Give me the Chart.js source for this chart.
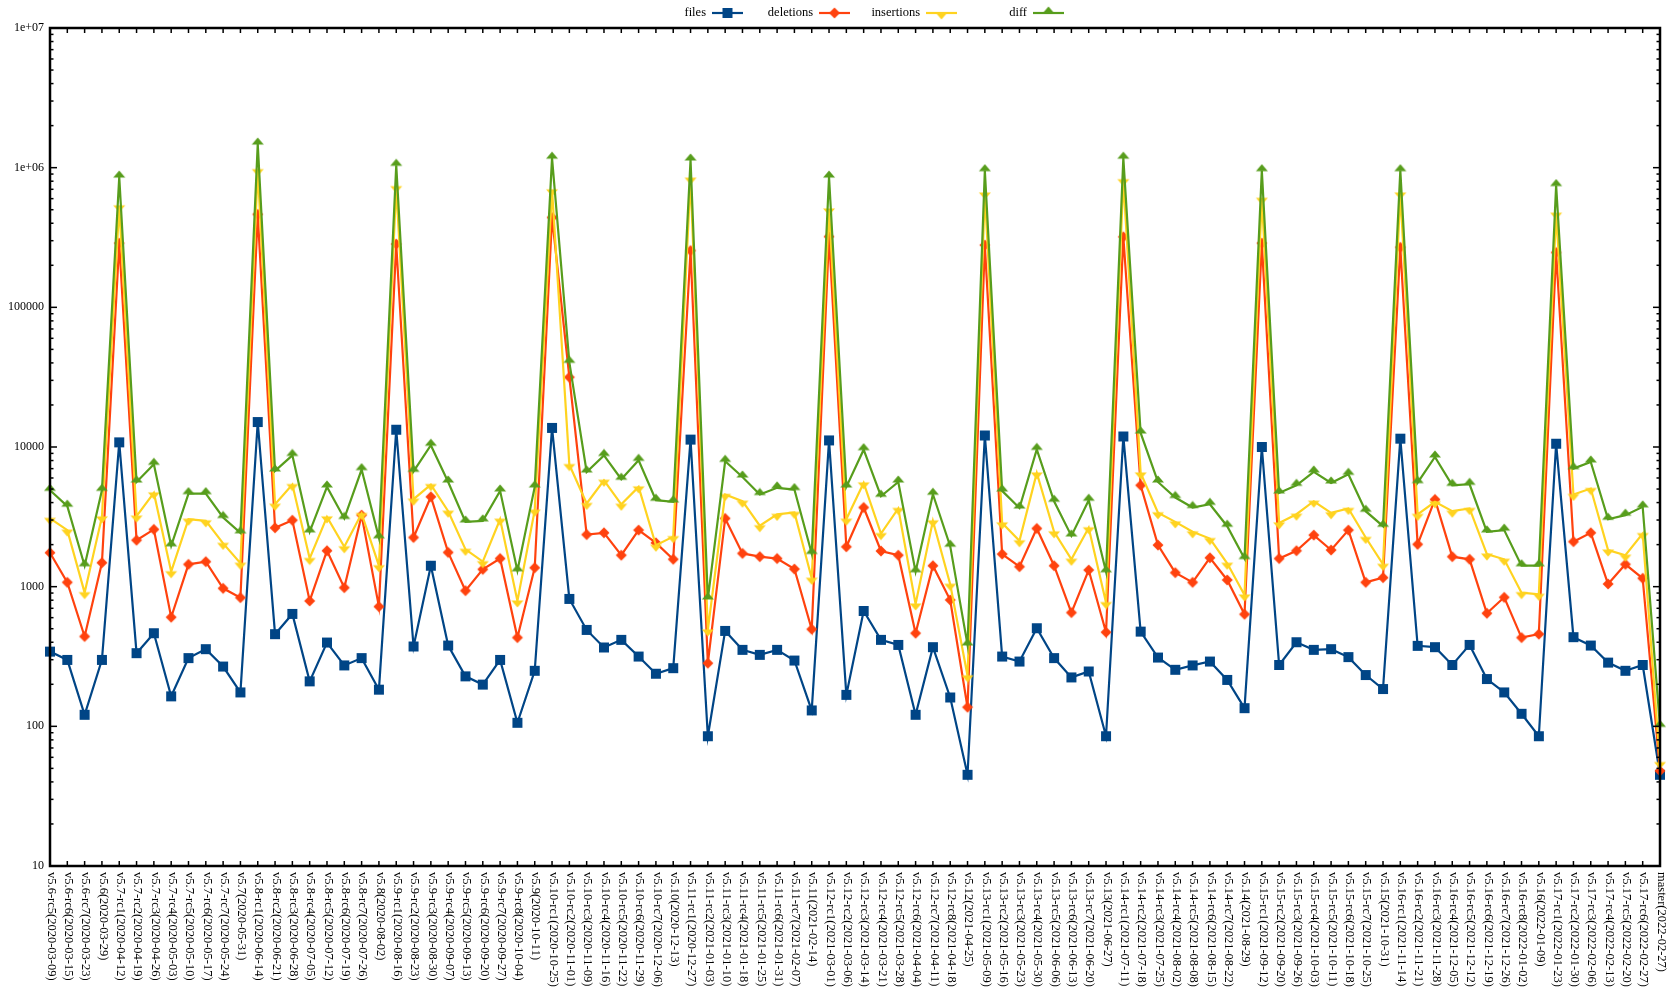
<!DOCTYPE html>
<html>
<head>
<meta charset="utf-8">
<script src="https://cdn.jsdelivr.net/npm/chart.js@4.4.1/dist/chart.umd.min.js"></script>
<style>
    html, body { margin: 0; padding: 0; background: #fff; }
    #wrap { width: 1671px; height: 1000px; }
</style>
</head>
<body>
<div id="wrap"><canvas id="myChart" width="1671" height="1000"></canvas></div>
<script>
const versions = [
    'v5.6-rc5(2020-03-09)', 'v5.6-rc6(2020-03-15)', 'v5.6-rc7(2020-03-23)', 'v5.6(2020-03-29)',
    'v5.7-rc1(2020-04-12)', 'v5.7-rc2(2020-04-19)', 'v5.7-rc3(2020-04-26)', 'v5.7-rc4(2020-05-03)',
    'v5.7-rc5(2020-05-10)', 'v5.7-rc6(2020-05-17)', 'v5.7-rc7(2020-05-24)', 'v5.7(2020-05-31)',
    'v5.8-rc1(2020-06-14)', 'v5.8-rc2(2020-06-21)', 'v5.8-rc3(2020-06-28)', 'v5.8-rc4(2020-07-05)',
    'v5.8-rc5(2020-07-12)', 'v5.8-rc6(2020-07-19)', 'v5.8-rc7(2020-07-26)', 'v5.8(2020-08-02)',
    'v5.9-rc1(2020-08-16)', 'v5.9-rc2(2020-08-23)', 'v5.9-rc3(2020-08-30)', 'v5.9-rc4(2020-09-07)',
    'v5.9-rc5(2020-09-13)', 'v5.9-rc6(2020-09-20)', 'v5.9-rc7(2020-09-27)', 'v5.9-rc8(2020-10-04)',
    'v5.9(2020-10-11)', 'v5.10-rc1(2020-10-25)', 'v5.10-rc2(2020-11-01)', 'v5.10-rc3(2020-11-09)',
    'v5.10-rc4(2020-11-16)', 'v5.10-rc5(2020-11-22)', 'v5.10-rc6(2020-11-29)', 'v5.10-rc7(2020-12-06)',
    'v5.10(2020-12-13)', 'v5.11-rc1(2020-12-27)', 'v5.11-rc2(2021-01-03)', 'v5.11-rc3(2021-01-10)',
    'v5.11-rc4(2021-01-18)', 'v5.11-rc5(2021-01-25)', 'v5.11-rc6(2021-01-31)', 'v5.11-rc7(2021-02-07)',
    'v5.11(2021-02-14)', 'v5.12-rc1(2021-03-01)', 'v5.12-rc2(2021-03-06)', 'v5.12-rc3(2021-03-14)',
    'v5.12-rc4(2021-03-21)', 'v5.12-rc5(2021-03-28)', 'v5.12-rc6(2021-04-04)', 'v5.12-rc7(2021-04-11)',
    'v5.12-rc8(2021-04-18)', 'v5.12(2021-04-25)', 'v5.13-rc1(2021-05-09)', 'v5.13-rc2(2021-05-16)',
    'v5.13-rc3(2021-05-23)', 'v5.13-rc4(2021-05-30)', 'v5.13-rc5(2021-06-06)', 'v5.13-rc6(2021-06-13)',
    'v5.13-rc7(2021-06-20)', 'v5.13(2021-06-27)', 'v5.14-rc1(2021-07-11)', 'v5.14-rc2(2021-07-18)',
    'v5.14-rc3(2021-07-25)', 'v5.14-rc4(2021-08-02)', 'v5.14-rc5(2021-08-08)', 'v5.14-rc6(2021-08-15)',
    'v5.14-rc7(2021-08-22)', 'v5.14(2021-08-29)', 'v5.15-rc1(2021-09-12)', 'v5.15-rc2(2021-09-20)',
    'v5.15-rc3(2021-09-26)', 'v5.15-rc4(2021-10-03)', 'v5.15-rc5(2021-10-11)', 'v5.15-rc6(2021-10-18)',
    'v5.15-rc7(2021-10-25)', 'v5.15(2021-10-31)', 'v5.16-rc1(2021-11-14)', 'v5.16-rc2(2021-11-21)',
    'v5.16-rc3(2021-11-28)', 'v5.16-rc4(2021-12-05)', 'v5.16-rc5(2021-12-12)', 'v5.16-rc6(2021-12-19)',
    'v5.16-rc7(2021-12-26)', 'v5.16-rc8(2022-01-02)', 'v5.16(2022-01-09)', 'v5.17-rc1(2022-01-23)',
    'v5.17-rc2(2022-01-30)', 'v5.17-rc3(2022-02-06)', 'v5.17-rc4(2022-02-13)', 'v5.17-rc5(2022-02-20)',
    'v5.17-rc6(2022-02-27)', 'master(2022-02-27)'
];

const files = [
    343, 299, 121, 299, 10800, 334, 464, 164, 308, 357, 268, 175,
    15100, 457, 638, 210, 398, 273, 308, 183,
    13300, 373, 1413, 379, 228, 199, 299, 106, 250,
    13700, 817, 490, 367, 416, 316, 238, 261,
    11300, 85, 482, 353, 325, 353, 296, 130,
    11150, 168, 670, 416, 383, 121, 369, 161, 45,
    12100, 316, 291, 504, 308, 224, 247, 85,
    11900, 477, 311, 254, 273, 291, 215, 135,
    10000, 275, 400, 353, 357, 313, 233, 185,
    11470, 377, 369, 275, 383, 218, 175, 123, 85,
    10560, 435, 379, 286, 250, 275, 45
];

const deletions = [
    1750, 1074, 440, 1484, 288000, 2150, 2570, 604, 1445, 1510, 973, 834,
    463000, 2640, 2990, 790, 1808, 984, 3250, 720,
    284000, 2250, 4400, 1760, 936, 1330, 1590, 432, 1367,
    440000, 31600, 2360, 2430, 1680, 2540, 2060, 1570,
    255000, 283, 3080, 1730, 1640, 1590, 1337, 496,
    321000, 1930, 3690, 1800, 1680, 464, 1413, 803, 137,
    279000, 1710, 1390, 2610, 1413, 652, 1315, 472,
    320000, 5320, 1985, 1260, 1074, 1610, 1117, 634,
    288000, 1590, 1808, 2340, 1830, 2540, 1074, 1160,
    269000, 2010, 4210, 1640, 1570, 645, 839, 432, 457,
    247000, 2100, 2430, 1045, 1445, 1148, 48
];

const insertions = [
    3080, 2540, 906, 3160, 533000, 3200, 4690, 1280, 3040, 2960, 2040, 1470,
    968000, 3890, 5380, 1590, 3160, 1930, 3340, 1413,
    731000, 4230, 5380, 3470, 1850, 1510, 3040, 790, 3530,
    694000, 7480, 3940, 5780, 3890, 5180, 1980, 2280,
    841000, 490, 4570, 4090, 2730, 3290, 3400, 1148,
    506000, 3040, 5530, 2400, 3630, 752, 2960, 1040, 230,
    658000, 2860, 2130, 6520, 2470, 1570, 2640, 769,
    820000, 6520, 3380, 2910, 2470, 2210, 1470, 872,
    603000, 2860, 3300, 4090, 3380, 3630, 2250, 1445,
    658000, 3290, 4050, 3470, 3630, 1710, 1570, 906, 881,
    472000, 4570, 5040, 1830, 1680, 2400, 55
];

const diff = [
    4900, 3770, 1413, 4900, 857000, 5620, 7520, 1963, 4640, 4640, 3130, 2430,
    1476000, 6740, 8710, 2470, 5180, 3080, 6890, 2240,
    1040000, 6700, 10300, 5620, 2910, 2960, 4850, 1300, 5180,
    1170000, 40400, 6630, 8710, 5880, 8030, 4160, 4050,
    1135000, 817, 7900, 6100, 4570, 5100, 4960, 1730,
    857000, 5180, 9570, 4440, 5620, 1280, 4590, 1950, 383,
    952000, 4850, 3660, 9620, 4090, 2310, 4160, 1280,
    1170000, 12600, 5620, 4350, 3690, 3890, 2710, 1590,
    952000, 4690, 5320, 6630, 5530, 6380, 3470, 2710,
    952000, 5560, 8490, 5320, 5410, 2470, 2540, 1413, 1413,
    745000, 7000, 7820, 3040, 3250, 3730, 100
];

// labels for the decades 10 .. 1e7
const yTickLabels = ['10', '100', '1000', '10000', '100000', '1e+06', '1e+07'];

const seriesNames = ['files', 'deletions', 'insertions', 'diff'];
const seriesColors = ['#004586', '#ff420e', '#ffd320', '#579d1c'];
const seriesMarkers = ['square', 'diamond', 'down', 'up'];

const FONT = "'Liberation Serif', 'DejaVu Serif', serif";

// little office-style symbols, drawn once and used as point images
function marker(kind, color) {
    const c = document.createElement('canvas');
    c.width = 14; c.height = 14;
    const g = c.getContext('2d');
    g.fillStyle = color;
    g.beginPath();
    if (kind === 'square') {
        g.rect(2, 2, 10, 10);
    } else if (kind === 'diamond') {
        g.moveTo(7, 1.5); g.lineTo(12.5, 7); g.lineTo(7, 12.5); g.lineTo(1.5, 7);
    } else if (kind === 'up') {
        g.moveTo(7, 0.5); g.lineTo(13, 7.5); g.lineTo(1, 7.5);
    } else {
        g.moveTo(1, 6.5); g.lineTo(13, 6.5); g.lineTo(7, 13.5);
    }
    g.closePath();
    g.fill();
    return c;
}
const markerImgs = seriesColors.map((c, i) => marker(seriesMarkers[i], c));

// frame, inward ticks, axis labels and the legend
const decorations = {
    id: 'decorations',
    afterDraw(chart) {
        const { ctx, chartArea: a, scales } = chart;
        const x = scales.x, y = scales.y;
        const line = (x1, y1, x2, y2) => {
            ctx.beginPath(); ctx.moveTo(x1, y1); ctx.lineTo(x2, y2); ctx.stroke();
        };
        ctx.save();
        ctx.strokeStyle = '#000';
        ctx.lineWidth = 1.5;

        for (let d = 1; d < 7; d++) {
            for (let m = 1; m <= 9; m++) {
                const py = y.getPixelForValue(m * Math.pow(10, d));
                const len = m === 1 ? 7 : 3.5;
                line(a.left, py, a.left + len, py);
                line(a.right, py, a.right - len, py);
            }
        }
        x.ticks.forEach((t, i) => {
            const px = x.getPixelForTick(i);
            line(px, a.bottom, px, a.bottom - 5);
            line(px, a.top, px, a.top + 5);
        });

        ctx.lineWidth = 2.5;
        ctx.strokeRect(a.left, a.top, a.right - a.left, a.bottom - a.top);

        ctx.fillStyle = '#000';

        // decade labels on the left
        ctx.font = '12px ' + FONT;
        ctx.textAlign = 'right';
        ctx.textBaseline = 'middle';
        yTickLabels.forEach((lab, i) => {
            ctx.fillText(lab, a.left - 6, y.getPixelForValue(Math.pow(10, i + 1)));
        });

        // category labels, reading downwards
        ctx.font = '12.5px ' + FONT;
        ctx.textAlign = 'left';
        chart.data.labels.forEach((lab, i) => {
            const px = x.getPixelForTick(i);
            ctx.save();
            ctx.translate(px + 1, a.bottom + 6);
            ctx.rotate(Math.PI / 2);
            ctx.fillText(lab, 0, 0);
            ctx.restore();
        });

        // legend: name, then a line sample with its symbol
        ctx.textAlign = 'right';
        chart.data.datasets.forEach((ds, i) => {
            const tx = 706 + 107 * i;
            const ly = 13;
            ctx.fillStyle = '#000';
            ctx.fillText(ds.label, tx, ly);
            ctx.strokeStyle = ds.borderColor;
            ctx.lineWidth = 2.2;
            line(tx + 6, ly, tx + 37, ly);
            const img = markerImgs[i];
            ctx.drawImage(img, tx + 21.5 - img.width / 2, ly - img.height / 2);
        });
        ctx.restore();
    }
};

const datasets = seriesNames.map((name, i) => ({
    label: name,
    data: [files, deletions, insertions, diff][i],
    borderColor: seriesColors[i],
    backgroundColor: seriesColors[i],
    borderWidth: 2.2,
    pointStyle: markerImgs[i],
    pointRadius: 6,
    tension: 0,
    fill: false,
    order: 4 - i
}));

const ctx = document.getElementById('myChart').getContext('2d');
const myChart = new Chart(ctx, {
    type: 'line',
    data: { labels: versions, datasets: datasets },
    options: {
        responsive: false,
        animation: false,
        devicePixelRatio: 1,
        layout: { padding: { top: 28, right: 11, left: 0, bottom: 0 } },
        plugins: {
            legend: { display: false },
            tooltip: { enabled: false }
        },
        scales: {
            x: {
                type: 'category',
                offset: false,
                grid: { display: false, drawTicks: false },
                border: { display: false },
                ticks: { display: false, autoSkip: false },
                afterFit: s => { s.height = 134; }
            },
            y: {
                type: 'logarithmic',
                min: 10,
                max: 10000000,
                grid: { display: false, drawTicks: false },
                border: { display: false },
                ticks: { display: false },
                afterFit: s => { s.width = 50; }
            }
        }
    },
    plugins: [decorations]
});
</script>
</body>
</html>
